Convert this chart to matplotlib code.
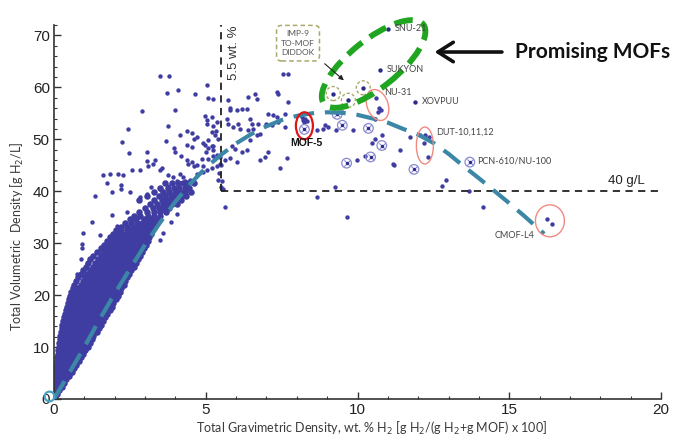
import numpy as np
import matplotlib
matplotlib.use("Agg")
import matplotlib.pyplot as plt
from matplotlib.patches import Ellipse
from matplotlib.transforms import ScaledTranslation

# ---------------- data ----------------
# dense cloud: rows of (volumetric density, [gravimetric densities])
core_rows = [
    (0.4, [0.0, 0.04]),
    (1.0, [0.01, 0.06, 0.11]),
    (1.7, [0.02, 0.07, 0.12, 0.18]),
    (2.4, [0.03, 0.08, 0.14, 0.2, 0.25]),
    (3.1, [0.03, 0.09, 0.15, 0.21, 0.27, 0.33]),
    (3.8, [0.04, 0.1, 0.17, 0.23, 0.3, 0.36, 0.41]),
    (4.5, [0.05, 0.11, 0.18, 0.25, 0.31, 0.38, 0.44, 0.5]),
    (5.2, [0.06, 0.12, 0.2, 0.27, 0.34, 0.41, 0.48, 0.55, 0.6]),
    (5.9, [0.07, 0.14, 0.22, 0.3, 0.37, 0.45, 0.52, 0.6, 0.67]),
    (6.6, [0.08, 0.15, 0.24, 0.32, 0.4, 0.49, 0.57, 0.65, 0.73]),
    (7.3, [0.1, 0.18, 0.27, 0.36, 0.44, 0.53, 0.62, 0.7, 0.78, 0.84]),
    (8.0, [0.11, 0.2, 0.29, 0.38, 0.47, 0.56, 0.65, 0.74, 0.83, 0.9]),
    (8.7, [0.12, 0.21, 0.3, 0.4, 0.5, 0.59, 0.68, 0.78, 0.87, 0.96]),
    (9.4, [0.14, 0.23, 0.33, 0.43, 0.53, 0.62, 0.72, 0.82, 0.92, 1.02]),
    (10.1, [0.15, 0.25, 0.35, 0.45, 0.55, 0.66, 0.76, 0.86, 0.96, 1.06, 1.12]),
    (10.8, [0.17, 0.27, 0.38, 0.48, 0.58, 0.69, 0.8, 0.9, 1.0, 1.1, 1.19]),
    (11.5, [0.19, 0.29, 0.4, 0.5, 0.61, 0.72, 0.83, 0.94, 1.05, 1.15, 1.25]),
    (12.2, [0.21, 0.31, 0.42, 0.53, 0.64, 0.75, 0.86, 0.97, 1.08, 1.19, 1.3]),
    (12.9, [0.23, 0.34, 0.45, 0.56, 0.67, 0.79, 0.9, 1.01, 1.13, 1.24, 1.35, 1.42]),
    (13.6, [0.25, 0.36, 0.48, 0.6, 0.71, 0.83, 0.94, 1.06, 1.18, 1.3, 1.41, 1.49]),
    (14.3, [0.28, 0.39, 0.51, 0.63, 0.75, 0.87, 0.99, 1.11, 1.23, 1.35, 1.47, 1.56]),
    (15.0, [0.3, 0.42, 0.54, 0.66, 0.78, 0.91, 1.03, 1.15, 1.28, 1.4, 1.52, 1.63]),
    (15.7, [0.33, 0.45, 0.57, 0.7, 0.82, 0.95, 1.08, 1.2, 1.33, 1.46, 1.58, 1.69]),
    (16.4, [0.36, 0.48, 0.6, 0.73, 0.86, 0.99, 1.12, 1.25, 1.38, 1.51, 1.64, 1.76]),
    (17.1, [0.39, 0.51, 0.64, 0.77, 0.9, 1.03, 1.17, 1.3, 1.43, 1.57, 1.7, 1.83]),
    (17.8, [0.42, 0.55, 0.68, 0.81, 0.94, 1.08, 1.21, 1.35, 1.49, 1.62, 1.76, 1.9]),
    (18.5, [0.46, 0.58, 0.72, 0.85, 0.99, 1.12, 1.26, 1.4, 1.54, 1.68, 1.82, 1.96]),
    (19.2, [0.49, 0.62, 0.76, 0.89, 1.03, 1.17, 1.31, 1.45, 1.59, 1.73, 1.88, 2.03]),
    (19.9, [0.53, 0.66, 0.8, 0.94, 1.08, 1.22, 1.36, 1.5, 1.65, 1.79, 1.94, 2.1]),
    (20.6, [0.57, 0.71, 0.85, 0.99, 1.13, 1.27, 1.42, 1.56, 1.71, 1.85, 2.0, 2.16]),
    (21.3, [0.62, 0.8, 0.92, 1.05, 1.18, 1.33, 1.47, 1.62, 1.77, 1.92, 2.07, 2.22]),
    (22.0, [0.66, 0.88, 1.0, 1.12, 1.24, 1.38, 1.53, 1.68, 1.83, 1.98, 2.13, 2.29]),
    (22.7, [0.72, 0.95, 1.08, 1.2, 1.31, 1.44, 1.59, 1.74, 1.89, 2.04, 2.2, 2.35]),
    (23.4, [0.8, 1.02, 1.15, 1.27, 1.38, 1.5, 1.65, 1.8, 1.95, 2.1, 2.26, 2.42]),
    (24.1, [0.88, 1.1, 1.23, 1.35, 1.45, 1.57, 1.72, 1.87, 2.02, 2.17, 2.33, 2.48]),
    (24.8, [0.95, 1.18, 1.3, 1.42, 1.52, 1.64, 1.78, 1.93, 2.08, 2.23, 2.39, 2.55]),
    (25.5, [1.05, 1.27, 1.38, 1.5, 1.6, 1.71, 1.85, 2.0, 2.15, 2.3, 2.46, 2.62]),
    (26.2, [1.12, 1.35, 1.46, 1.57, 1.67, 1.78, 1.92, 2.07, 2.22, 2.37, 2.53, 2.69]),
    (26.9, [1.2, 1.45, 1.55, 1.65, 1.75, 1.85, 1.99, 2.14, 2.29, 2.44, 2.6, 2.76]),
    (27.6, [1.3, 1.55, 1.64, 1.73, 1.83, 1.93, 2.06, 2.21, 2.36, 2.51, 2.67, 2.83]),
    (28.3, [1.42, 1.62, 1.72, 1.82, 1.92, 2.02, 2.14, 2.28, 2.43, 2.58, 2.74, 2.9]),
    (29.0, [1.55, 1.7, 1.8, 1.9, 2.0, 2.1, 2.22, 2.36, 2.5, 2.65, 2.81, 2.97]),
    (29.7, [1.65, 1.78, 1.88, 1.98, 2.08, 2.19, 2.3, 2.44, 2.58, 2.72, 2.88, 3.04]),
    (30.4, [1.75, 1.88, 1.98, 2.08, 2.18, 2.28, 2.4, 2.53, 2.66, 2.8, 2.95, 3.1]),
    (31.1, [1.85, 1.97, 2.08, 2.2, 2.32, 2.44, 2.56, 2.7, 2.84, 2.98, 3.12]),
    (31.8, [1.95, 2.1, 2.25, 2.38, 2.5, 2.63, 2.76, 2.9, 3.04, 3.18]),
    (32.5, [2.05, 2.2, 2.4, 2.55, 2.68, 2.82, 2.96, 3.1, 3.24]),
    (33.2, [2.2, 2.42, 2.6, 2.75, 2.88, 3.02, 3.16, 3.3]),
    (33.9, [2.35, 2.55, 2.72, 2.9, 3.05, 3.2, 3.35]),
    (34.6, [2.5, 2.7, 2.95, 3.12, 3.28, 3.42]),
    (35.3, [2.65, 2.85, 3.1, 3.3, 3.48]),
    (36.0, [2.8, 3.05, 3.3, 3.5, 3.7]),
    (36.7, [3.0, 3.25, 3.45, 3.62, 3.8]),
    (37.5, [3.15, 3.4, 3.6, 3.75, 3.9, 4.05]),
    (38.3, [2.8, 3.3, 3.55, 3.72, 3.88, 4.05, 4.2]),
    (39.1, [3.05, 3.45, 3.65, 3.85, 4.02, 4.2, 4.35]),
    (39.9, [3.3, 3.6, 3.8, 4.0, 4.15, 4.3, 4.5]),
    (40.7, [3.5, 3.75, 3.95, 4.12, 4.3, 4.45]),
    (41.5, [3.65, 3.9, 4.1, 4.25, 4.42, 4.6]),
]

# sparse MOFs (gravimetric wt.%, volumetric g/L)
sparse_x = [1.74, 2.2, 3.19, 3.52, 3.74, 1.35, 2.5, 2.83, 3.05, 1.24, 1.9, 2.4, 2.6,
            0.97, 1.52, 0.91, 0.91, 3.49, 3.6, 0.88, 1.1, 0.77, 0.99, 0.66, 2.07, 1.9,
            2.22, 3.87, 4.04, 3.63,
            3.5, 3.78, 3.71, 4.1, 4.65, 5.05, 5.08, 2.89, 3.99, 4.98, 5.03, 5.23, 5.34,
            2.45, 3.77, 2.25, 3.69, 4.15, 4.37, 4.54, 4.7, 4.6, 2.47, 3.05, 3.96, 3.99,
            4.37, 4.97, 5.08, 5.2, 5.25, 5.0, 4.54,
            1.63, 1.85, 2.12, 2.28, 2.56, 2.83, 3.05, 3.33, 3.1, 3.27, 3.5, 3.55,
            4.2, 4.37, 4.54, 4.43, 4.6, 4.7, 4.86, 4.92, 5.08, 5.25, 5.36,
            3.77, 3.93, 4.15, 4.26, 4.04, 4.32, 4.48, 4.7, 4.92, 5.03, 5.19, 5.36,
            5.47, 5.5, 5.45, 5.55, 5.5, 5.63,
            5.74, 6.62, 6.68, 7.39, 7.72, 5.8, 6.02, 6.18, 6.35, 5.2, 5.36, 5.03,
            5.69, 5.74, 5.91, 6.07, 6.13, 6.46, 6.51, 6.57, 6.4, 6.73, 7.06, 7.23,
            7.34, 7.61, 7.0, 7.17, 7.39, 7.61, 6.68, 6.79, 6.46, 5.2, 5.3, 5.41, 5.85,
            5.96, 6.18, 6.35, 4.92, 5.08, 5.25, 6.79, 6.95, 7.06, 7.45, 7.67, 6.02,
            5.8, 5.63, 5.47, 8.66, 8.93, 9.29, 9.86, 9.26, 8.66, 9.64, 5.58, 5.41,
            7.55, 7.72, 7.34, 6.4, 5.25, 5.8,
            8.87, 9.04, 10.58, 10.8, 10.25, 10.47, 10.58, 11.21, 11.4, 11.73, 9.97,
            11.18, 12.77, 12.92, 13.67, 14.15, 16.23, 16.42,
            12.06, 12.22, 12.37, 12.19, 12.33,
            10.62, 10.72, 10.78, 10.68,
            8.2, 8.28, 8.25, 8.32, 8.18, 9.5]
sparse_y = [41.5, 41.2, 40.9, 40.2, 41.1, 39.1, 39.8, 38.8, 39.4, 34.1, 35.4, 36.0, 34.7,
            31.9, 31.5, 29.9, 29.0, 30.6, 31.9, 26.9, 26.0, 24.0, 23.4, 21.8, 33.4, 39.9,
            40.5, 34.1, 35.6, 39.1,
            62.1, 62.1, 58.9, 59.5, 58.7, 60.4, 58.0, 55.4, 55.6, 54.5, 53.7, 52.5, 51.5,
            51.9, 52.5, 49.5, 49.6, 50.8, 51.6, 51.3, 50.5, 50.0, 47.4, 47.6, 48.3, 47.6,
            48.9, 48.9, 48.3, 48.7, 47.9, 47.6, 48.5,
            43.1, 43.4, 43.4, 43.1, 44.0, 44.0, 45.8, 46.0, 44.8, 45.3, 44.0, 44.4,
            46.8, 46.0, 45.6, 45.2, 44.9, 45.1, 46.2, 44.8, 46.2, 46.7, 47.0,
            43.1, 42.8, 43.4, 42.8, 41.9, 41.9, 42.2, 43.4, 43.7, 44.0, 44.4, 44.9,
            46.5, 45.0, 43.5, 42.0, 40.8, 37.0,
            57.5, 58.8, 57.8, 58.8, 57.2, 55.6, 55.6, 55.9, 55.9, 54.3, 53.3, 53.0,
            54.0, 53.0, 52.4, 53.0, 52.0, 54.0, 53.0, 52.0, 51.7, 53.0, 54.9, 54.6,
            54.3, 54.9, 53.0, 52.7, 53.3, 52.4, 50.8, 51.1, 49.8, 51.4, 50.8, 50.1, 48.8,
            48.2, 47.6, 47.9, 49.2, 49.8, 48.8, 46.0, 46.6, 47.6, 44.4, 46.3, 45.6,
            46.3, 46.0, 45.3, 51.7, 52.7, 51.7, 51.7, 40.8, 38.9, 35.1, 40.5, 42.1,
            62.5, 62.5, 59.1, 58.1, 57.8, 56.0,
            52.0, 52.4, 54.0, 50.8, 46.7, 49.2, 50.1, 45.0, 47.9, 50.4, 46.0,
            45.3, 41.0, 42.2, 40.0, 36.9, 34.6, 33.6,
            50.8, 50.8, 50.4, 49.3, 46.6,
            58.0, 56.0, 55.6, 55.3,
            53.8, 54.0, 53.4, 53.6, 54.2, 55.3]

# labelled promising MOFs
named_x = [11.02, 10.74, 11.9]
named_y = [71.3, 63.4, 57.2]
named_labels = ["SNU-21", "SUKYON", "XOVPUU"]

# IMP-9 / TO-MOF / DIDDOK (dashed circles)
imp_x = [9.2, 9.7, 10.19]
imp_y = [58.8, 57.5, 59.9]

# MOFs marked with a circled cross
cross_x = [8.25, 9.33, 9.5, 10.36, 10.8, 9.64, 10.43, 11.86, 13.7]
cross_y = [51.9, 54.8, 52.7, 52.1, 48.8, 45.4, 46.6, 44.2, 45.6]

# fitted trend (dashed)
fit_x = [0, 0.5, 1, 1.5, 2, 2.5, 3, 3.5, 4, 4.5, 5, 5.5, 6, 6.5, 7, 7.5, 8, 8.5, 9,
         9.5, 10, 10.5, 11, 11.5, 12, 12.5, 13, 13.5, 14, 14.5, 15, 15.5, 16.15]
fit_y = [0, 5, 10, 15.3, 20.3, 25, 29.7, 34, 38, 41.5, 44.5, 47, 49.2, 51, 52.5, 53.7,
         54.5, 55, 55.2, 55.1, 54.7, 54.0, 53.2, 52.0, 50.9, 49.3, 47.2, 44.8, 42.5,
         40.1, 37.7, 35.2, 31.8]

x_ticks = [0, 5, 10, 15, 20]
y_ticks = [0, 10, 20, 30, 40, 50, 60, 70]
wt_limit = 5.5
vol_limit = 40

# ---------------- figure ----------------
plt.rcParams["font.family"] = ["Liberation Sans", "DejaVu Sans"]
fig = plt.figure(figsize=(6.78, 4.37), dpi=100)
ax = fig.add_axes([54 / 678, 38 / 437, 607 / 678, 374 / 437])
ax.set_xlim(0, 20)
ax.set_ylim(0, 72)

DOT = "#3f3ca2"

cloud_x, cloud_y = [], []
for yv, xs in core_rows:
    cloud_x += xs
    cloud_y += [yv] * len(xs)
ax.scatter(cloud_x, cloud_y, s=22, color=DOT, linewidths=0, zorder=2)
ax.scatter(sparse_x, sparse_y, s=10, color=DOT, linewidths=0, zorder=2)
ax.scatter(named_x, named_y, s=10, color="#2a2a8a", linewidths=0, zorder=4)
ax.scatter(imp_x, imp_y, s=10, color="#2a2a8a", linewidths=0, zorder=4)

# circled crosses
ax.scatter(cross_x, cross_y, s=48, facecolors="none", edgecolors="#8a8ad0", linewidths=0.9, zorder=3)
ax.scatter(cross_x, cross_y, s=20, marker="x", color="#8a8ad0", linewidths=0.8, zorder=3)
ax.scatter(cross_x, cross_y, s=6, color="#2a2a8a", linewidths=0, zorder=3)

# fitted curve
ax.plot(fit_x, fit_y, color="#3c87a6", lw=3.0, linestyle=(0, (5, 2.6)),
        solid_capstyle="butt", dash_capstyle="butt", zorder=3)
ax.plot([-0.17], [0.5], marker="o", ms=7, mfc="none", mec="#4aa3c4", mew=1.6,
        clip_on=False, zorder=3)

# threshold lines
ax.plot([wt_limit, wt_limit], [vol_limit, 72], color="#222222", lw=1.3,
        linestyle=(0, (4, 3)), zorder=2.5)
ax.plot([wt_limit, 20], [vol_limit, vol_limit], color="#222222", lw=1.3,
        linestyle=(0, (4, 3)), zorder=2.5)

# axes styling
for s in ["top", "right"]:
    ax.spines[s].set_visible(False)
for s in ["left", "bottom"]:
    ax.spines[s].set_color("#333333")
    ax.spines[s].set_linewidth(1.2)
ax.set_xticks(x_ticks)
ax.set_yticks(y_ticks)
ax.set_xticks(np.arange(0, 21, 1), minor=True)
ax.set_yticks(np.arange(0, 73, 2), minor=True)
ax.tick_params(which="major", direction="in", length=5, width=1, color="#333333",
               labelsize=11, labelcolor="#222222", pad=3)
ax.tick_params(which="minor", direction="in", length=2.5, width=0.8, color="#333333")

LBL = ["Lato", "DejaVu Sans"]
fig.text(372 / 678, 1 - 428 / 437,
         "Total Gravimetric Density, wt. % H$_2$ [g H$_2$/(g H$_2$+g MOF) x 100]",
         family=LBL, fontsize=9, color="#3a3a3a", ha="center", va="center")
fig.text(17 / 678, 1 - 236 / 437, "Total Volumetric  Density [g H$_2$/L]",
         family=LBL, fontsize=9, color="#3a3a3a", ha="center", va="center",
         rotation=90)


def pix_patch(cx, cy, w, h, angle=0, **kw):
    tr = fig.dpi_scale_trans + ScaledTranslation(cx, cy, ax.transData)
    e = Ellipse((0, 0), w / 100, h / 100, angle=angle, transform=tr, fill=False,
                clip_on=False, **kw)
    ax.add_patch(e)


# red ellipses
pix_patch(8.25, 52.6, 17, 27, ec="#e01414", lw=1.6, zorder=5)
pix_patch(10.66, 56.6, 32, 21, angle=110, ec="#f08a80", lw=1.0, zorder=5)
pix_patch(12.22, 48.8, 17, 37, ec="#f08a80", lw=1.0, zorder=5)
pix_patch(16.34, 34.3, 29, 32, ec="#f08a80", lw=1.0, zorder=5)
# dashed olive circles
for xi, yi in zip(imp_x, imp_y):
    pix_patch(xi, yi, 14, 14, ec="#a9a96a", lw=1.0, linestyle=(0, (2.2, 1.5)), zorder=5)
# promising MOFs green ellipse
pix_patch(10.53, 64.5, 127, 48, angle=38.6, ec="#1fa51f", lw=4.2,
          linestyle=(0, (3.2, 1.6)), zorder=6)

SMALL = dict(family=LBL, fontsize=6.5, color="#444444", va="center", ha="left", zorder=7)
for xi, yi, t in zip(named_x, named_y, named_labels):
    ax.text(xi + 0.22, yi, t, **SMALL)
ax.text(10.87, 59.1, "NU-31", **SMALL)
ax.text(12.6, 51.3, "DUT-10,11,12", **SMALL)
ax.text(13.93, 45.8, "PCN-610/NU-100", **SMALL)
ax.text(14.53, 31.4, "CMOF-L4", **SMALL)

ax.text(8.3, 49.3, "MOF-5", fontsize=7.5, fontweight="bold", color="#111111",
        ha="center", va="center", zorder=7)
ax.text(5.92, 66.6, "5.5 wt. %", rotation=90, fontsize=9.5, color="#333333",
        ha="center", va="center", zorder=7)
ax.text(18.85, 41.9, "40 g/L", fontsize=9.5, color="#222222", ha="center",
        va="center", zorder=7)

ax.text(8.04, 68.5, "IMP-9\nTO-MOF\nDIDDOK", family=LBL, fontsize=6, color="#555555",
        ha="center", va="center", linespacing=1.45, zorder=7,
        bbox=dict(boxstyle="round,pad=0.55,rounding_size=0.6", fc="white",
                  ec="#a9a96a", lw=1.1, ls=(0, (3, 2))))
ax.annotate("", xy=(9.62, 61.0), xytext=(8.85, 64.9),
            arrowprops=dict(arrowstyle="-|>", color="#222222", lw=0.8,
                            mutation_scale=7), zorder=7)

ax.text(15.2, 66.8, "Promising MOFs", family=["Lato", "DejaVu Sans"], fontsize=15,
        fontweight="bold", color="#111111", ha="left", va="center", zorder=7)
ax.annotate("", xy=(12.45, 66.8), xytext=(14.85, 66.8),
            arrowprops=dict(arrowstyle="->,head_length=0.55,head_width=0.35",
                            color="#111111", lw=2.6, mutation_scale=20), zorder=7)

fig.savefig("out.png", dpi=100)
